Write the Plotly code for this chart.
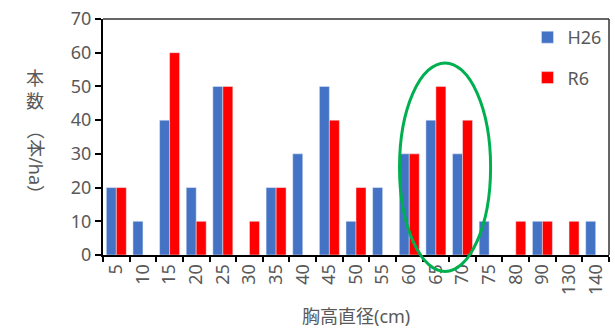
import plotly.graph_objects as go

# Diameter classes (cm) and stem counts per hectare for the two surveys
diameter_classes = ["5", "10", "15", "20", "25", "30", "35", "40", "45", "50",
                    "55", "60", "65", "70", "75", "80", "90", "130", "140"]
h26_counts = [20, 10, 40, 20, 50, 0, 20, 30, 50, 10, 20, 30, 40, 30, 10, 0, 10, 0, 10]
r6_counts = [20, 0, 60, 10, 50, 10, 20, 0, 40, 20, 0, 30, 50, 40, 0, 10, 10, 10, 0]
y_ticks = [0, 10, 20, 30, 40, 50, 60, 70]

GRAY = "#595959"
FONT = "Noto Sans, Noto Sans CJK JP, sans-serif"

fig = go.Figure()
fig.add_trace(go.Bar(x=diameter_classes, y=h26_counts, name="H26",
                     marker_color="#4472C4", legendgroup="a"))
fig.add_trace(go.Bar(x=diameter_classes, y=r6_counts, name="R6",
                     marker_color="#FF0000", legendgroup="b"))

# thin frame on the top and right of the plot area
fig.add_shape(type="line", xref="paper", yref="paper", x0=0, x1=1, y0=1, y1=1,
              line=dict(color="#333333", width=1.5))
fig.add_shape(type="line", xref="paper", yref="paper", x0=1, x1=1, y0=0, y1=1,
              line=dict(color="#333333", width=1.5))

# green ellipse highlighting the 60-70 cm classes
fig.add_shape(type="circle", xref="paper", yref="paper",
              x0=0.586, x1=0.766, y0=-0.07, y1=0.814,
              line=dict(color="#00B050", width=3))

# vertical y-axis title: upright kanji followed by rotated unit
title_font = dict(size=18, color=GRAY, family=FONT)
for txt, py, ang in [("本", 73, 0), ("数", 97, 0), ("（本/ha）", 160, 90)]:
    fig.add_annotation(text=txt, xref="paper", yref="paper",
                       x=-0.134, y=(255 - py) / 242, xanchor="center", yanchor="middle",
                       textangle=ang, showarrow=False, font=title_font)

# x-axis title
fig.add_annotation(text="胸高直径(cm)", xref="paper", yref="paper",
                   x=0.5, y=(255 - 318) / 242, xanchor="center", yanchor="middle",
                   showarrow=False, font=title_font)

fig.update_layout(
    width=615, height=333,
    margin=dict(l=103, r=6, t=13, b=78),
    paper_bgcolor="white", plot_bgcolor="white",
    barmode="group", bargap=0.25, bargroupgap=0,
    font=dict(family=FONT, color=GRAY, size=17),
    showlegend=True,
    legend=dict(x=0.995, y=1.0, xanchor="right", yanchor="top",
                font=dict(size=18, color=GRAY), bgcolor="rgba(0,0,0,0)",
                tracegroupgap=14, itemwidth=30),
    xaxis=dict(type="category", tickson="boundaries", ticks="outside", ticklen=5,
               tickcolor="black", tickwidth=1.5, tickangle=-90,
               showline=True, linecolor="black", linewidth=2,
               tickfont=dict(size=18, color=GRAY), showgrid=False),
    yaxis=dict(range=[0, 70], tickvals=y_ticks, ticks="outside", ticklen=6,
               tickcolor="black", tickwidth=1.5,
               showline=True, linecolor="black", linewidth=2,
               tickfont=dict(size=18, color=GRAY), showgrid=False, zeroline=False),
)

fig.write_html("out.html")
